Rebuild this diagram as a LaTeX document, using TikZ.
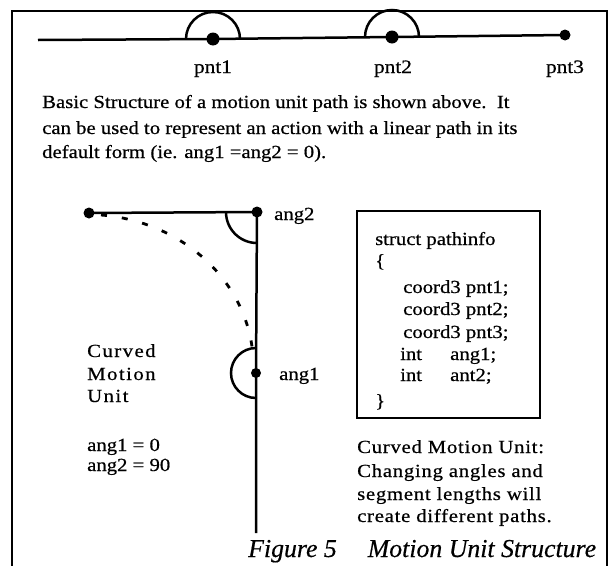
\documentclass[tikz,border=0pt]{standalone}
\usepackage{fontspec}
\setmainfont{Liberation Serif}[FakeStretch=1.12,FakeBold=0.6]
\newfontfamily\capfont{Liberation Serif}[FakeBold=0.4]
\begin{document}
\begin{tikzpicture}[x=1pt,y=-1pt,
  txt/.style={anchor=base west, inner sep=0pt, font=\fontsize{18.5}{22}\selectfont},
  lbl/.style={anchor=base, inner sep=0pt, font=\fontsize{19}{22}\selectfont},
  sp/.style={txt, font=\fontsize{18.5}{22}\selectfont\addfontfeature{LetterSpace=8}},
  captxt/.style={txt, font=\fontsize{18.5}{22}\selectfont\addfontfeature{LetterSpace=4}},
  dot/.style={circle, fill=black, inner sep=0pt, minimum size=13pt},
  sdot/.style={circle, fill=black, inner sep=0pt, minimum size=11pt},
  ln/.style={line width=2.5pt},
  frame/.style={line width=2.8pt},
  dsh/.style={line width=2.8pt, dash pattern=on 6pt off 15pt}]
\useasboundingbox (0,0) rectangle (613,565);
% outer frame
\coordinate (f1) at (12,570);
\coordinate (f2) at (12,11);
\coordinate (f3) at (607,11);
\coordinate (f4) at (607,570);
\draw[frame] (f1) -- (f2) -- (f3) -- (f4);
% top path
\coordinate (s0) at (38,40);
\node[dot] (p1) at (213,39) {};
\node[dot] (p2) at (392,37) {};
\node[sdot] (p3) at (565,35) {};
\draw[ln] (s0) -- (p1.center) -- (p2.center) -- (p3.center);
\draw[ln] (p1.center) ++(-27,0) arc[start angle=180, end angle=360, radius=27];
\draw[ln] (p2.center) ++(-27,0) arc[start angle=180, end angle=360, radius=27];
\node[lbl] (l1) at (213,73) {pnt1};
\node[lbl] (l2) at (393,73) {pnt2};
\node[lbl] (l3) at (565,73) {pnt3};
% paragraph
\node[txt] (t1) at (42,108) {Basic Structure of a motion unit path is shown above.\ \ It};
\node[txt] (t2) at (42,134) {can be used to represent an action with a linear path in its};
\node[txt] (t3) at (42,158) {default form (ie. ang1 =ang2 = 0).};
% curved motion unit
\node[sdot] (L) at (89,213) {};
\node[sdot] (A2) at (257,212) {};
\node[circle, fill=black, inner sep=0pt, minimum size=10pt] (A1) at (256,373) {};
\coordinate (B) at (256,533);
\draw[ln] (L.center) -- (A2.center) -- (A1.center) -- (B);
\draw[ln] (A2.center) ++(-31,0) arc[start angle=180, end angle=90, radius=31];
\draw[ln] (A1.center) ++(0,-25) arc[start angle=270, end angle=90, radius=25];
\draw[dsh] (L.center) ++(12,2) arc[start angle=-85, end angle=-3, x radius=167, y radius=152];
\node[txt] (a2) at (274,220) {ang2};
\node[txt] (a1) at (279,380) {ang1};
\node[sp] (c1) at (87,357) {Curved};
\node[sp] (c2) at (87,380) {Motion};
\node[sp] (c3) at (87,402) {Unit};
\node[txt] (e1) at (87,451) {ang1 = 0};
\node[txt] (e2) at (87,471) {ang2 = 90};
% struct box
\node[draw, line width=2.8pt, minimum width=183pt, minimum height=207pt, inner sep=0pt] (box) at (448.5,314.5) {};
\node[txt] (s1) at (375,245) {struct pathinfo};
\node[txt] (s2) at (375,267) {\{};
\node[txt] (s3) at (403,293) {coord3 pnt1;};
\node[txt] (s4) at (403,315) {coord3 pnt2;};
\node[txt] (s5) at (403,338) {coord3 pnt3;};
\node[txt] (s6) at (400,360) {int};
\node[txt] (s6b) at (450,360) {ang1;};
\node[txt] (s7) at (400,381) {int};
\node[txt] (s7b) at (450,381) {ant2;};
\node[txt] (s8) at (375,407) {\}};
% caption right
\node[captxt] (k1) at (357,453) {Curved Motion Unit:};
\node[captxt] (k2) at (357,477) {Changing angles and};
\node[captxt] (k3) at (357,500) {segment lengths will};
\node[captxt] (k4) at (357,522) {create different paths.};
% figure caption
\node[anchor=base west, inner sep=0pt, font=\capfont\itshape\fontsize{25.8}{30}\selectfont] (fig) at (248,557) {Figure 5\hspace{1.2em}Motion Unit Structure};
\end{tikzpicture}
\end{document}
